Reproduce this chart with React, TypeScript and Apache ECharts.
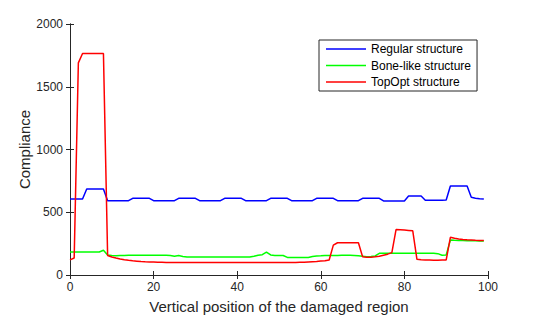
import React, { useEffect, useRef } from "react";
import * as echarts from "echarts";

const xTicks = [0, 20, 40, 60, 80, 100];
const yTicks = [0, 500, 1000, 1500, 2000];

const seriesNames = ["Regular structure", "Bone-like structure", "TopOpt structure"];
const seriesColors = ["#0000ff", "#00ff00", "#ff0000"];

const regular = [
  605, 605, 605, 605,
  685, 685, 685, 685, 685,
  592, 592, 592, 592, 592, 592,
  611, 611, 611, 611, 611,
  592, 592, 592, 592, 592, 592,
  611, 611, 611, 611, 611,
  592, 592, 592, 592, 592, 592,
  611, 611, 611, 611, 611,
  592, 592, 592, 592, 592, 592,
  611, 611, 611, 611, 611,
  592, 592, 592, 592, 592, 592,
  611, 611, 611, 611, 611,
  592, 592, 592, 592, 592, 592,
  611, 611, 611, 611, 611,
  590, 590, 590, 590, 590, 590,
  629, 629, 629, 629,
  595, 595, 595, 595, 595,
  597,
  709, 709, 709, 709, 709,
  619, 612, 607, 605,
];

const boneLike = [
  183, 183, 183, 183, 183, 183, 183, 183,
  197, 160,
  156, 154, 155, 156, 157, 158, 158, 158, 158, 157, 157, 158, 158, 157, 156,
  150, 155, 148,
  143, 143, 143, 143, 143, 143, 143, 143, 143, 143, 143, 143, 143, 143, 143, 143,
  150, 158, 162, 183, 160,
  156, 156, 155,
  140, 140, 140, 140, 140, 140,
  148,
  152, 153, 155, 155, 155, 155, 157, 157, 157, 156, 153, 150, 146, 148, 152,
  173, 173, 173, 173, 173, 173, 173, 173, 173, 173, 173, 173, 173, 173,
  170, 158, 160,
  278, 276, 275, 274, 273, 272, 272, 271, 270,
];

const topOpt = [
  120, 135, 1690, 1765, 1765, 1765, 1765, 1765, 1765,
  155, 143, 135, 128, 122, 117, 113, 110, 107, 105, 104, 103, 102, 101,
  100, 100, 100, 100, 100, 100, 100, 100, 100, 100, 100, 100, 100, 100, 100, 100,
  100, 100, 100, 100, 100, 100, 100, 100, 100, 100, 100, 100, 100, 100, 100, 100,
  101, 102, 104, 106, 108, 111, 114, 120,
  238,
  257, 257, 257, 257, 257, 257,
  145, 142, 142, 145, 150, 158, 166, 178,
  362, 360, 358, 355, 352,
  125, 122, 120, 119, 118, 118, 119, 120,
  300, 292, 287, 283, 280, 278, 276, 275, 274,
];

const allValues = [regular, boneLike, topOpt];

const axisColor = "#262626";
const font = "Liberation Sans, Arial, Helvetica, sans-serif";

export default function App() {
  const ref = useRef<HTMLDivElement>(null);

  useEffect(() => {
    if (!ref.current) return;
    const chart = echarts.init(ref.current, null, { renderer: "svg" });
    const xMin = xTicks[0];
    const xMax = xTicks[xTicks.length - 1];
    const xInt = xTicks[1] - xTicks[0];
    const yMin = yTicks[0];
    const yMax = yTicks[yTicks.length - 1];
    const yInt = yTicks[1] - yTicks[0];

    const baseAxis = {
      axisLine: { show: true, lineStyle: { color: axisColor, width: 1 } },
      axisTick: { show: true, inside: true, length: 4, lineStyle: { color: axisColor, width: 1 } },
      splitLine: { show: false },
    };

    chart.setOption({
      animation: false,
      backgroundColor: "#ffffff",
      textStyle: { fontFamily: font },
      grid: { left: 70, right: 52, top: 24, bottom: 45, show: false },
      legend: {
        orient: "vertical",
        left: 319,
        top: 40,
        data: seriesNames,
        icon: "rect",
        itemWidth: 40,
        itemHeight: 1.5,
        itemGap: 2.5,
        padding: [2, 6, 2, 7],
        borderColor: axisColor,
        borderWidth: 1,
        backgroundColor: "#ffffff",
        textStyle: { fontSize: 12, color: "#000000", fontFamily: font, lineHeight: 14 },
      },
      xAxis: [
        {
          ...baseAxis,
          type: "value",
          position: "bottom",
          min: xMin,
          max: xMax,
          interval: xInt,
          name: "Vertical position of the damaged region",
          nameLocation: "middle",
          nameMoveOverlap: false,
          nameGap: 24,
          nameTextStyle: { fontSize: 15, color: axisColor, fontFamily: font },
          axisLabel: { fontSize: 12, color: axisColor, margin: 6, fontFamily: font, formatter: (v: number) => String(v) },
        },
        {
          ...baseAxis,
          type: "value",
          position: "top",
          min: xMin,
          max: xMax,
          interval: xInt,
          axisLabel: { show: false },
        },
      ],
      yAxis: [
        {
          ...baseAxis,
          type: "value",
          position: "left",
          min: yMin,
          max: yMax,
          interval: yInt,
          name: "Compliance",
          nameLocation: "middle",
          nameMoveOverlap: false,
          nameGap: 38,
          nameTextStyle: { fontSize: 15, color: axisColor, fontFamily: font },
          axisLabel: { fontSize: 12, color: axisColor, margin: 7, fontFamily: font, formatter: (v: number) => String(v) },
        },
        {
          ...baseAxis,
          type: "value",
          position: "right",
          min: yMin,
          max: yMax,
          interval: yInt,
          axisLabel: { show: false },
        },
      ],
      series: allValues.map((vals, s) => ({
        name: seriesNames[s],
        type: "line",
        xAxisIndex: 0,
        yAxisIndex: 0,
        symbol: "none",
        showSymbol: false,
        color: seriesColors[s],
        itemStyle: { color: seriesColors[s] },
        lineStyle: { color: seriesColors[s], width: 1.5 },
        data: vals.map((v, i) => [i, v]),
      })),
    });

    return () => {
      chart.dispose();
    };
  }, []);

  return (
    <div
      ref={ref}
      style={{ position: "fixed", left: 0, top: 0, width: 540, height: 320 }}
    />
  );
}
